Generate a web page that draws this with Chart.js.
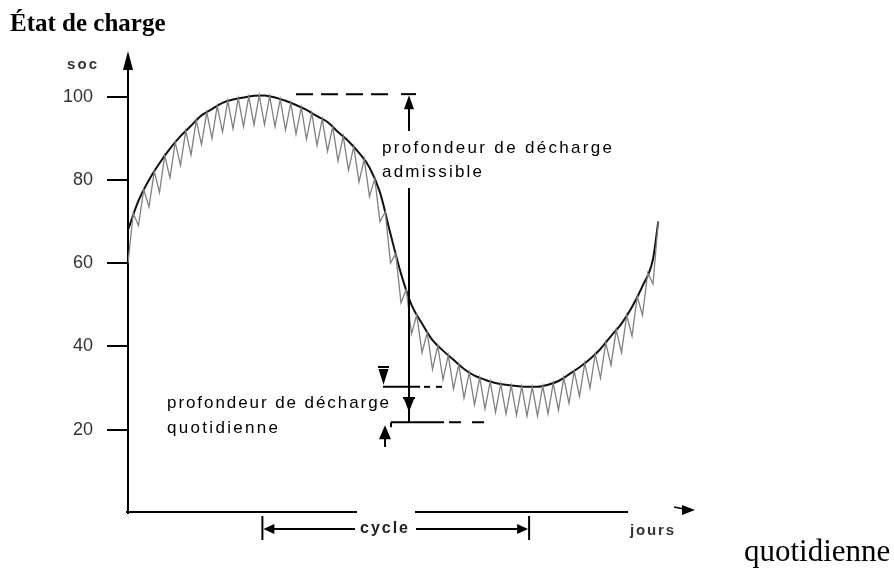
<!DOCTYPE html>
<html lang="fr">
<head>
<meta charset="utf-8">
<title>État de charge</title>
<script src="https://cdn.jsdelivr.net/npm/chart.js@4.4.1/dist/chart.umd.min.js"></script>
<style>
  html, body { margin: 0; padding: 0; background: #fff; }
  #wrap { width: 894px; height: 573px; position: relative; }
</style>
</head>
<body>
<div id="wrap"><canvas id="soc-chart" width="894" height="573"></canvas></div>
<script>
// état de charge (SOC, %) over the days
const socTicks = [20, 40, 60, 80, 100];

// seasonal SOC envelope, one value per day
const curveDays = [0, 1, 2, 3, 4, 5, 6, 7, 8, 9, 10, 11, 12, 13, 14, 15, 16, 17, 18, 19,
  20, 21, 22, 23, 24, 25, 26, 27, 28, 29, 30, 31, 32, 33, 34, 35, 36, 37, 38, 39,
  40, 41, 42, 43, 44, 45, 46, 47, 48, 49, 50, 50.5];
const curveSoc = [68, 75, 80, 84, 87.5, 90.5, 93, 95.5, 97, 98.5, 99.3, 99.8, 100.2, 100.3, 99.8, 99, 98, 96.8, 95.3, 93.9,
  91.5, 89.3, 86.5, 83, 77, 67, 57.5, 50, 45.5, 41.5, 39, 36.8, 34.6, 33, 32, 31.2, 30.8, 30.5, 30.3, 30.3,
  30.8, 31.7, 33.3, 35, 37, 39.4, 42.5, 45.5, 49.5, 54.5, 61, 70];

// daily charge / discharge, one value every half day
const sawStep = 0.5;
const sawSoc = [60, 72, 69, 77.7, 73.5, 82, 77, 85.8, 80.5, 89, 83.5, 91.8, 86, 94.3, 88.5, 96.3, 90, 97.8, 91.5, 99,
  92.3, 99.6, 92.8, 100, 93.2, 100.3, 93.3, 100.1, 92.8, 99.4, 92, 98.5, 91, 97.4, 89.8, 96.1, 88.3, 94.6, 86.9, 92.8,
  84.5, 90.5, 82.3, 88, 79.5, 85, 76, 80.3, 70, 72.3, 60, 62.3, 50.5, 53.7, 43, 47.6, 38.5, 43.3, 34.5, 40.2,
  32, 37.9, 29.8, 35.7, 27.6, 33.8, 26, 32.5, 25, 31.6, 24.2, 31, 23.8, 30.6, 23.5, 30.4, 23.3, 30.3, 23.3, 30.5,
  23.8, 31.2, 24.7, 32.5, 26.3, 34.1, 28, 36, 30, 38.2, 32.4, 40.9, 35.5, 44, 38.5, 47.5, 42.5, 52, 47.5, 57.7,
  55, 70];

// depth-of-discharge levels and the cycle span
const admissibleTop = 100.6;
const admissibleBottom = 30.3;
const dailyBottom = 21.8;
const cycleStart = 12.8;
const cycleEnd = 38.2;

const curvePoints = curveDays.map((d, i) => ({ x: d, y: curveSoc[i] }));
const sawPoints = sawSoc.map((v, i) => ({ x: i * sawStep, y: v }));

const SANS = '"Liberation Sans", Arial, sans-serif';

// draws a string stretched to a given width by spacing its letters
function spacedText(ctx, str, x, y, width) {
  const widths = [...str].map(c => ctx.measureText(c).width);
  const total = widths.reduce((a, b) => a + b, 0);
  const gap = str.length > 1 ? (width - total) / (str.length - 1) : 0;
  let cx = x;
  [...str].forEach((c, i) => {
    ctx.fillText(c, cx, y);
    cx += widths[i] + gap;
  });
}

function tri(ctx, x1, y1, x2, y2, x3, y3) {
  ctx.beginPath();
  ctx.moveTo(x1, y1);
  ctx.lineTo(x2, y2);
  ctx.lineTo(x3, y3);
  ctx.closePath();
  ctx.fill();
}

function line(ctx, x1, y1, x2, y2) {
  ctx.beginPath();
  ctx.moveTo(x1, y1);
  ctx.lineTo(x2, y2);
  ctx.stroke();
}

const schemaPlugin = {
  id: 'schema',
  afterDraw(chart) {
    const ctx = chart.ctx;
    const xs = chart.scales.x;
    const ys = chart.scales.y;
    const left = chart.chartArea.left;
    const y0 = ys.getPixelForValue(0) - 1;
    const yTop = ys.getPixelForValue(admissibleTop);
    const yMid = ys.getPixelForValue(admissibleBottom);
    const yLow = ys.getPixelForValue(dailyBottom);

    ctx.save();
    ctx.fillStyle = '#000';
    ctx.strokeStyle = '#000';
    ctx.lineWidth = 2;

    // title
    ctx.textBaseline = 'alphabetic';
    ctx.font = 'bold 25px "Liberation Serif", serif';
    ctx.fillText('État de charge', 10, 31);

    // y axis arrow + label
    tri(ctx, left, 51, left - 5, 70, left + 5, 70);
    line(ctx, left, 60, left, chart.chartArea.top);
    ctx.textBaseline = 'middle';
    ctx.font = 'bold 15px ' + SANS;
    ctx.fillStyle = '#333';
    spacedText(ctx, 'soc', 67, 65, 30);

    // x axis (broken under the cycle label)
    ctx.fillStyle = '#000';
    line(ctx, left - 2, y0, 357, y0);
    line(ctx, 415, y0, 628, y0);
    tri(ctx, 695, y0 - 2, 682, y0 - 7, 682, y0 + 3);
    ctx.lineWidth = 1.5;
    line(ctx, 674, y0 - 5, 684, y0 - 3);
    ctx.lineWidth = 2;
    ctx.font = 'bold 15px ' + SANS;
    ctx.fillStyle = '#333';
    spacedText(ctx, 'jours', 630, 531, 44);

    // cycle bracket
    ctx.fillStyle = '#000';
    const cx1 = xs.getPixelForValue(cycleStart);
    const cx2 = xs.getPixelForValue(cycleEnd);
    const cy = 529;
    line(ctx, cx1, 516, cx1, 540);
    line(ctx, cx2, 516, cx2, 540);
    line(ctx, cx1 + 8, cy, 355, cy);
    line(ctx, 416, cy, cx2 - 8, cy);
    tri(ctx, cx1 + 1, cy, cx1 + 12, cy - 5, cx1 + 12, cy + 5);
    tri(ctx, cx2 - 1, cy, cx2 - 12, cy - 5, cx2 - 12, cy + 5);
    ctx.font = 'bold 16px ' + SANS;
    ctx.fillStyle = '#222';
    spacedText(ctx, 'cycle', 360, cy, 48);

    // admissible depth of discharge
    ctx.fillStyle = '#000';
    ctx.setLineDash([17, 8]);
    line(ctx, 296, yTop, 396, yTop);
    ctx.setLineDash([]);
    const ax = 409;
    line(ctx, ax - 8, yTop, ax + 7, yTop);
    tri(ctx, ax, yTop + 1, ax - 5, yTop + 15, ax + 5, yTop + 15);
    line(ctx, ax, yTop + 14, ax, 131);
    line(ctx, ax, 188, ax, yMid);
    ctx.font = '17px ' + SANS;
    ctx.fillStyle = '#000';
    spacedText(ctx, 'profondeur de décharge', 382, 148, 230);
    spacedText(ctx, 'admissible', 382, 172, 100);

    // daily depth of discharge
    ctx.fillStyle = '#000';
    line(ctx, 383, yMid, 420, yMid);
    ctx.setLineDash([6, 6]);
    line(ctx, 424, yMid, 442, yMid);
    ctx.setLineDash([]);
    line(ctx, 378, 367, 389, 367);
    tri(ctx, 383.5, yMid - 2, 378.5, 369, 388.5, 369);

    line(ctx, ax, yMid, ax, yLow);
    line(ctx, ax - 6, 398, ax + 6, 398);
    tri(ctx, ax, 412, ax - 5, 399, ax + 5, 399);
    line(ctx, 391, yLow, 444, yLow);
    ctx.setLineDash([12, 11]);
    line(ctx, 449, yLow, 489, yLow);
    ctx.setLineDash([]);
    line(ctx, 391, yLow, 391, yLow + 5);
    tri(ctx, 385, yLow + 3, 379, yLow + 17, 391, yLow + 17);
    line(ctx, 385, yLow + 16, 385, 447);

    ctx.font = '17px ' + SANS;
    ctx.fillStyle = '#000';
    spacedText(ctx, 'profondeur de décharge', 167, 403, 222);
    spacedText(ctx, 'quotidienne', 167, 428, 111);

    // caption at the bottom right
    ctx.textBaseline = 'alphabetic';
    ctx.fillStyle = '#000';
    ctx.font = '31px "Liberation Serif", serif';
    ctx.fillText('quotidienne', 744, 561);

    ctx.restore();
  }
};

new Chart(document.getElementById('soc-chart'), {
  type: 'line',
  data: {
    datasets: [
      {
        label: 'journalier',
        data: sawPoints,
        borderColor: '#808080',
        borderWidth: 1.3,
        tension: 0,
        pointRadius: 0,
        fill: false
      },
      {
        label: 'saisonnier',
        data: curvePoints,
        borderColor: '#111',
        borderWidth: 2,
        cubicInterpolationMode: 'monotone',
        pointRadius: 0,
        fill: false
      }
    ]
  },
  options: {
    responsive: false,
    devicePixelRatio: 1,
    animation: false,
    layout: { padding: { top: 55, right: 199, bottom: 60, left: 0 } },
    plugins: {
      legend: { display: false },
      tooltip: { enabled: false }
    },
    scales: {
      x: { type: 'linear', min: 0, max: 54, display: false },
      y: {
        min: 0,
        max: 110,
        afterFit: scale => { scale.width = 128; },
        afterBuildTicks: scale => { scale.ticks = socTicks.map(v => ({ value: v })); },
        ticks: {
          padding: 14,
          color: '#333',
          font: { family: '"Liberation Sans", Arial, sans-serif', size: 18 }
        },
        grid: {
          drawOnChartArea: false,
          drawTicks: true,
          tickLength: 21,
          color: '#000',
          lineWidth: 2
        },
        border: { display: true, color: '#000', width: 2 }
      }
    }
  },
  plugins: [schemaPlugin]
});
</script>
</body>
</html>
